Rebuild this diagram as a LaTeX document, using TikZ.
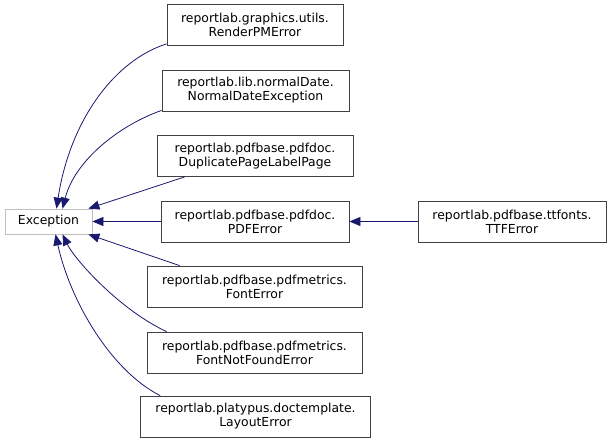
\documentclass[tikz,border=0pt]{standalone}
\usepackage{fontspec}
\setmainfont{DejaVu Sans}
\usetikzlibrary{arrows.meta}
\definecolor{edgeblue}{HTML}{191970}
\definecolor{basegray}{HTML}{BFBFBF}

\begin{document}
\begin{tikzpicture}[x=1pt,y=-1pt,font=\fontsize{12.4}{14}\selectfont,
  box/.style={draw=black!75,line width=0.8pt,align=center,inner sep=0pt,minimum height=41pt,fill=white},
  base/.style={box,draw=basegray,minimum height=25pt},
  inh/.style={draw=edgeblue,line width=0.8pt,-{Triangle[length=11pt,width=9pt]}}]
  \useasboundingbox (0,0) rectangle (612,444);
  \node[base,minimum width=87pt] (exc) at (48.5,221.5) {Exception};
  \node[box,minimum width=176pt] (render) at (255,25) {reportlab.graphics.utils.\\RenderPMError};
  \node[box,minimum width=187pt] (normdate) at (255.5,90.5) {reportlab.lib.normalDate.\\NormalDateException};
  \node[box,minimum width=196pt] (dupl) at (255,156) {reportlab.pdfbase.pdfdoc.\\DuplicatePageLabelPage};
  \node[box,minimum width=188pt] (pdferr) at (255,221.5) {reportlab.pdfbase.pdfdoc.\\PDFError};
  \node[box,minimum width=188pt] (ttferr) at (512,221.5) {reportlab.pdfbase.ttfonts.\\TTFError};
  \node[box,minimum width=215pt] (fonterr) at (254.5,286.5) {reportlab.pdfbase.pdfmetrics.\\FontError};
  \node[box,minimum width=215pt] (fontnf) at (254.5,352.5) {reportlab.pdfbase.pdfmetrics.\\FontNotFoundError};
  \node[box,minimum width=230pt] (layout) at (255.5,416.5) {reportlab.platypus.doctemplate.\\LayoutError};
  % inheritance edges
  \draw[inh] ([yshift=2pt]render.south west) .. controls (115,60) and (70,120) .. ([xshift=8pt]exc.north);
  \draw[inh] ([yshift=1pt]normdate.south west) .. controls (120,125) and (75,160) .. ([xshift=14pt]exc.north);
  \draw[inh] ([xshift=28pt]dupl.south west) -- ([xshift=-4pt]exc.north east);
  \draw[inh] (pdferr) -- (exc);
  \draw[inh] (ttferr) -- (pdferr);
  \draw[inh] ([xshift=33pt]fonterr.north west) -- ([xshift=-4pt]exc.south east);
  \draw[inh] ([xshift=20pt]fontnf.north west) .. controls (120,310) and (75,260) .. ([xshift=14pt]exc.south);
  \draw[inh] ([xshift=20pt]layout.north west) .. controls (110,370) and (70,300) .. ([xshift=7pt]exc.south);
\end{tikzpicture}
\end{document}
